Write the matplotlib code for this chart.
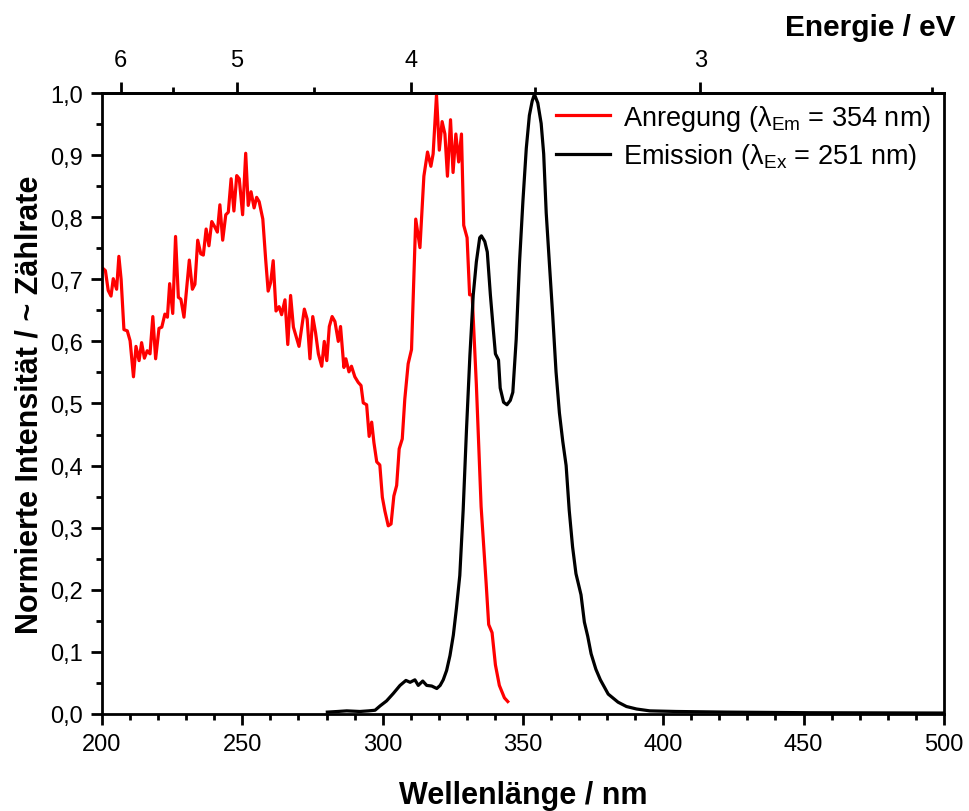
import numpy as np
import matplotlib
matplotlib.use('Agg')
import matplotlib.pyplot as plt
from matplotlib.ticker import MultipleLocator, FixedLocator, FuncFormatter

plt.rcParams['font.family'] = ['Liberation Sans', 'DejaVu Sans']
plt.rcParams['mathtext.fontset'] = 'custom'
plt.rcParams['mathtext.rm'] = 'Liberation Sans'
plt.rcParams['mathtext.it'] = 'Liberation Sans:italic'

# Anregung (excitation), red
exc_nm = [200.2, 201.2, 202.2, 203.2, 204.0, 205.2, 206.0, 206.8, 207.8, 209.0,
          210.0, 211.2, 212.1, 213.2, 214.1, 215.1, 216.1, 217.1, 218.1, 219.1,
          220.3, 221.3, 222.4, 223.3, 224.1, 225.2, 226.2, 227.2, 228.1, 229.2,
          231.1, 232.2, 233.1, 234.1, 235.2, 236.1, 237.1, 238.1, 239.1, 240.0,
          241.1, 242.0, 243.0, 244.1, 245.0, 246.0, 247.0, 248.0, 248.9, 250.1,
          251.2, 252.1, 253.1, 254.2, 255.1, 256.0, 257.3, 258.3, 259.2, 260.1,
          261.0, 262.0, 263.1, 264.0, 265.2, 266.2, 267.2, 268.2, 270.2, 272.1,
          273.1, 274.1, 275.1, 276.1, 277.1, 278.3, 279.2, 280.1, 281.0, 282.0,
          283.0, 284.2, 285.0, 286.2, 286.9, 288.0, 288.9, 290.1, 291.3, 292.3,
          293.1, 294.3, 295.2, 296.1, 296.9, 297.9, 299.0, 299.9, 300.8, 302.0,
          303.0, 304.0, 305.0, 305.9, 307.0, 307.9, 309.1, 310.3, 311.8, 313.3,
          314.7, 316.0, 317.2, 318.0, 319.2, 320.2, 321.2, 322.2, 323.1, 324.2,
          325.1, 326.1, 327.1, 328.1, 328.9, 330.1, 331.0, 331.9, 333.4, 335.1,
          336.9, 337.8, 339.0, 340.2, 341.6, 343.4, 344.6]
exc_int = [0.718, 0.714, 0.682, 0.673, 0.701, 0.684, 0.737, 0.700, 0.619, 0.617,
           0.601, 0.543, 0.592, 0.569, 0.598, 0.573, 0.585, 0.580, 0.640, 0.572,
           0.621, 0.623, 0.644, 0.639, 0.693, 0.645, 0.769, 0.671, 0.668, 0.639,
           0.731, 0.684, 0.692, 0.763, 0.741, 0.739, 0.781, 0.754, 0.793, 0.786,
           0.776, 0.820, 0.763, 0.804, 0.808, 0.862, 0.810, 0.867, 0.862, 0.804,
           0.903, 0.819, 0.841, 0.815, 0.832, 0.825, 0.797, 0.733, 0.681, 0.695,
           0.730, 0.649, 0.656, 0.643, 0.667, 0.595, 0.674, 0.623, 0.592, 0.652,
           0.636, 0.572, 0.640, 0.614, 0.580, 0.560, 0.600, 0.569, 0.624, 0.640,
           0.632, 0.600, 0.624, 0.558, 0.572, 0.551, 0.560, 0.543, 0.534, 0.529,
           0.501, 0.498, 0.447, 0.470, 0.437, 0.406, 0.401, 0.349, 0.327, 0.303,
           0.306, 0.351, 0.368, 0.427, 0.443, 0.507, 0.564, 0.587, 0.797, 0.751,
           0.866, 0.905, 0.882, 0.902, 0.997, 0.908, 0.954, 0.934, 0.866, 0.957,
           0.872, 0.934, 0.889, 0.934, 0.787, 0.767, 0.675, 0.675, 0.531, 0.334,
           0.210, 0.144, 0.131, 0.079, 0.046, 0.026, 0.020]

# Emission, black
em_nm = [280.3, 284.0, 287.2, 291.9, 295.0, 297.3, 299.1, 301.4, 303.8, 306.2,
         308.3, 309.8, 311.5, 312.7, 314.3, 315.7, 317.5, 319.3, 320.5, 321.6,
         322.8, 324.0, 325.2, 326.3, 327.5, 328.7, 329.9, 331.1, 332.3, 333.4,
         334.6, 335.2, 336.4, 337.3, 338.4, 339.5, 340.2, 341.3, 341.9, 343.1,
         344.3, 345.5, 346.4, 347.6, 348.8, 350.0, 351.2, 352.3, 353.3, 354.1,
         355.3, 356.5, 357.4, 358.3, 359.4, 360.6, 361.8, 363.0, 364.2, 365.4,
         366.5, 367.7, 368.9, 370.7, 371.9, 373.1, 374.3, 376.0, 377.6, 380.4,
         383.9, 386.9, 390.5, 395.2, 404.7, 422.5, 452.2, 499.7]
em_int = [0.003, 0.004, 0.005, 0.004, 0.005, 0.006, 0.013, 0.021, 0.033, 0.046,
          0.054, 0.051, 0.055, 0.046, 0.053, 0.046, 0.045, 0.041, 0.046, 0.055,
          0.070, 0.094, 0.127, 0.170, 0.223, 0.328, 0.459, 0.577, 0.675, 0.728,
          0.767, 0.770, 0.761, 0.744, 0.675, 0.616, 0.580, 0.570, 0.525, 0.502,
          0.498, 0.505, 0.518, 0.603, 0.728, 0.826, 0.911, 0.964, 0.987, 0.998,
          0.984, 0.951, 0.902, 0.807, 0.728, 0.643, 0.551, 0.485, 0.439, 0.400,
          0.328, 0.269, 0.226, 0.192, 0.148, 0.125, 0.097, 0.072, 0.055, 0.032,
          0.019, 0.012, 0.008, 0.005, 0.004, 0.003, 0.002, 0.0015]

ev_major = [6, 5, 4, 3]
ev_minor = [5.5, 4.5, 3.5, 2.5]

HC = 1239.84


def nm_to_ev(x):
    x = np.asarray(x, dtype=float)
    with np.errstate(divide='ignore'):
        return HC / x


fig = plt.figure(figsize=(9.69, 8.12), dpi=100)
ax = fig.add_axes([0.1053, 0.1195, 0.8687, 0.7647])

ax.plot(exc_nm, exc_int, color='#ff0000', lw=2.3,
        label=r'Anregung (λ$_{\mathrm{Em}}$ = 354 nm)')
ax.plot(em_nm, em_int, color='black', lw=2.3,
        label=r'Emission (λ$_{\mathrm{Ex}}$ = 251 nm)')

ax.set_xlim(200, 500)
ax.set_ylim(0, 1.0)

ax.xaxis.set_major_locator(MultipleLocator(50))
ax.xaxis.set_minor_locator(MultipleLocator(10))
ax.yaxis.set_major_locator(MultipleLocator(0.1))
ax.yaxis.set_minor_locator(MultipleLocator(0.05))
ax.yaxis.set_major_formatter(FuncFormatter(lambda v, p: ('%.1f' % v).replace('.', ',')))

ax.tick_params(axis='both', which='major', direction='out', length=8, width=2,
               labelsize=17, pad=6)
ax.tick_params(axis='both', which='minor', direction='out', length=4, width=2)
ax.tick_params(top=False, right=False, which='both')
for s in ax.spines.values():
    s.set_linewidth(2)

ax.set_xlabel('Wellenlänge / nm', fontsize=22, fontweight='bold', labelpad=18)
ax.set_ylabel('Normierte Intensität / ~ Zählrate', fontsize=22, fontweight='bold', labelpad=4)

top = ax.secondary_xaxis('top', functions=(nm_to_ev, nm_to_ev))
top.xaxis.set_major_locator(FixedLocator(ev_major))
top.xaxis.set_minor_locator(FixedLocator(ev_minor))
top.xaxis.set_major_formatter(FuncFormatter(lambda v, p: '%d' % v))
top.tick_params(which='major', direction='out', length=8, width=2, labelsize=17, pad=8)
top.tick_params(which='minor', direction='out', length=4, width=2)
top.spines['top'].set_linewidth(2)

fig.text(0.986, 0.965, 'Energie / eV', ha='right', va='center',
         fontsize=21.5, fontweight='bold')

leg = ax.legend(loc='upper right', bbox_to_anchor=(0.998, 1.002), frameon=False,
                fontsize=19.5, handlelength=2.0, handletextpad=0.5,
                labelspacing=0.32, borderaxespad=0.0)

fig.savefig('out.png', dpi=100)
